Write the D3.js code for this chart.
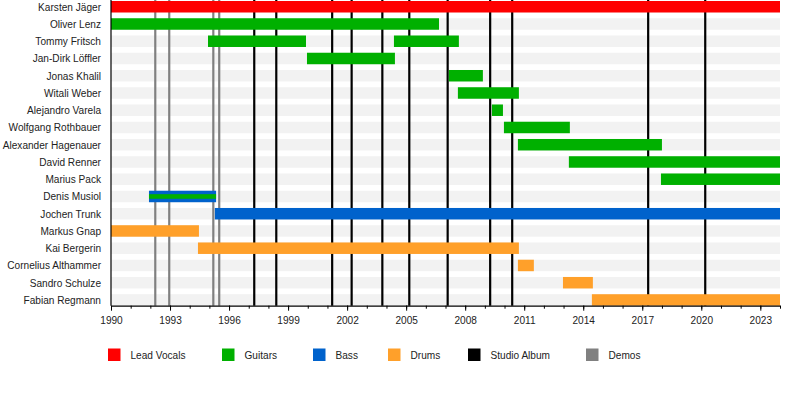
<!DOCTYPE html>
<html>
<head>
<meta charset="utf-8">
<script src="https://cdn.jsdelivr.net/npm/d3@7"></script>
<style>
  html, body { margin: 0; padding: 0; background: #fff; }
  svg { display: block; }
  text { font-family: "Liberation Sans", Arial, sans-serif; fill: #222; }
</style>
</head>
<body>
<svg id="chart" width="800" height="396"></svg>
<script>
// ---------- DATA ----------
const members = [
  "Karsten Jäger", "Oliver Lenz", "Tommy Fritsch", "Jan-Dirk Löffler",
  "Jonas Khalil", "Witali Weber", "Alejandro Varela", "Wolfgang Rothbauer",
  "Alexander Hagenauer", "David Renner", "Marius Pack", "Denis Musiol",
  "Jochen Trunk", "Markus Gnap", "Kai Bergerin", "Cornelius Althammer",
  "Sandro Schulze", "Fabian Regmann"
];

// [member, start, end]
const vocalsPeriods = [
  ["Karsten Jäger", 1990.0, 2024.0]
];
const guitarPeriods = [
  ["Oliver Lenz", 1990.0, 2006.67],
  ["Tommy Fritsch", 1994.93, 1999.91],
  ["Tommy Fritsch", 2004.38, 2007.68],
  ["Jan-Dirk Löffler", 1999.96, 2004.43],
  ["Jonas Khalil", 2007.17, 2008.9],
  ["Witali Weber", 2007.63, 2010.73],
  ["Alejandro Varela", 2009.36, 2009.92],
  ["Wolfgang Rothbauer", 2009.97, 2013.32],
  ["Alexander Hagenauer", 2010.68, 2018.0],
  ["David Renner", 2013.27, 2024.0],
  ["Marius Pack", 2017.95, 2024.0]
];
const bassPeriods = [
  ["Denis Musiol", 1991.93, 1995.34],
  ["Jochen Trunk", 1995.28, 2024.0]
];
// secondary role drawn as thin inner stripe
const guitarStripePeriods = [
  ["Denis Musiol", 1991.93, 1995.34]
];
const drumPeriods = [
  ["Markus Gnap", 1990.0, 1994.47],
  ["Kai Bergerin", 1994.42, 2010.73],
  ["Cornelius Althammer", 2010.68, 2011.49],
  ["Sandro Schulze", 2012.97, 2014.49],
  ["Fabian Regmann", 2014.44, 2024.0]
];

const studioAlbums = [1997.28, 1998.4, 2001.24, 2002.23, 2003.79, 2005.16,
  2007.11, 2009.27, 2010.39, 2017.3, 2020.2];
const demos = [1992.25, 1992.96, 1995.2, 1995.5];

const majorTicks = [1990, 1993, 1996, 1999, 2002, 2005, 2008, 2011, 2014, 2017, 2020, 2023];
const minorTicks = d3.range(1990, 2025);
const yearDomain = [1990, 2024];

const legendLabels = ["Lead Vocals", "Guitars", "Bass", "Drums", "Studio Album", "Demos"];

// ---------- STYLE / LAYOUT ----------
const colors = {
  "Lead Vocals": "#ff0000",
  "Guitars": "#00b000",
  "Bass": "#0062cc",
  "Drums": "#ffa02a",
  "Studio Album": "#000000",
  "Demos": "#808080"
};
const stripeColor = "#f2f2f2";
const plot = { left: 111, right: 780, top: 1, bottom: 305.7 };
const legendX = [108, 222, 313, 388, 468, 586];
const legendY = 348.5;
const condense = 0.92;

const svg = d3.select("#chart");

const x = d3.scaleLinear().domain(yearDomain).range([plot.left, plot.right]);
const y = d3.scaleBand().domain(members)
  .range([plot.top, plot.bottom]).paddingInner(0.334).paddingOuter(0);
const bh = y.bandwidth();

// row background stripes
svg.append("g").selectAll("rect").data(members).join("rect")
  .attr("x", x(yearDomain[0])).attr("width", x(yearDomain[1]) - x(yearDomain[0]))
  .attr("y", d => y(d)).attr("height", bh)
  .attr("fill", stripeColor);

// event lines
svg.append("g").selectAll("line").data(demos).join("line")
  .attr("x1", d => x(d)).attr("x2", d => x(d))
  .attr("y1", 0).attr("y2", plot.bottom)
  .attr("stroke", colors["Demos"]).attr("stroke-width", 2.2);
svg.append("g").selectAll("line").data(studioAlbums).join("line")
  .attr("x1", d => x(d)).attr("x2", d => x(d))
  .attr("y1", 0).attr("y2", plot.bottom)
  .attr("stroke", colors["Studio Album"]).attr("stroke-width", 2.2);

function drawBars(data, color) {
  svg.append("g").selectAll("rect").data(data).join("rect")
    .attr("x", d => x(d[1])).attr("width", d => x(d[2]) - x(d[1]))
    .attr("y", d => y(d[0])).attr("height", bh)
    .attr("fill", color);
}
drawBars(vocalsPeriods, colors["Lead Vocals"]);
drawBars(guitarPeriods, colors["Guitars"]);
drawBars(bassPeriods, colors["Bass"]);
drawBars(drumPeriods, colors["Drums"]);

// inner stripe for secondary role
svg.append("g").selectAll("rect").data(guitarStripePeriods).join("rect")
  .attr("x", d => x(d[1])).attr("width", d => x(d[2]) - x(d[1]))
  .attr("y", d => y(d[0]) + bh * 0.3).attr("height", bh * 0.4)
  .attr("fill", colors["Guitars"]);

// left axis line
svg.append("line")
  .attr("x1", plot.left).attr("x2", plot.left)
  .attr("y1", 0).attr("y2", plot.bottom)
  .attr("stroke", "#000").attr("stroke-width", 1.2);

// member labels
svg.append("g").selectAll("g").data(members).join("g")
  .attr("transform", d => `translate(${plot.left - 10},${y(d) + bh / 2}) scale(${condense},1)`)
  .append("text")
  .attr("dy", "0.35em")
  .attr("text-anchor", "end")
  .attr("font-size", 11)
  .text(d => d);

// bottom axis: minor ticks
const minorAxis = d3.axisBottom(x).tickValues(minorTicks).tickSize(3).tickFormat("");
const gMinor = svg.append("g").attr("transform", `translate(0,${plot.bottom})`).call(minorAxis);
gMinor.select(".domain").remove();
gMinor.selectAll("line").attr("stroke", "#000");

const majorAxis = d3.axisBottom(x).tickValues(majorTicks).tickSize(5).tickSizeOuter(0)
  .tickFormat(d3.format("d")).tickPadding(5);
const gMajor = svg.append("g").attr("transform", `translate(0,${plot.bottom})`).call(majorAxis);
gMajor.select(".domain").attr("stroke", "#000").attr("stroke-width", 1.2);
gMajor.selectAll("line").attr("stroke", "#000");
gMajor.selectAll("text").attr("font-size", 11)
  .attr("transform", `scale(${condense},1)`)
  .attr("font-family", "'Liberation Sans', Arial, sans-serif").attr("fill", "#222");

// legend
const lg = svg.append("g").selectAll("g").data(legendLabels).join("g")
  .attr("transform", (d, i) => `translate(${legendX[i]},${legendY})`);
lg.append("rect").attr("width", 12.5).attr("height", 12.5).attr("fill", d => colors[d]);
lg.append("g").attr("transform", `translate(22.5,6.5) scale(${condense},1)`)
  .append("text").attr("dy", "0.35em")
  .attr("font-size", 11).text(d => d);
</script>
</body>
</html>
